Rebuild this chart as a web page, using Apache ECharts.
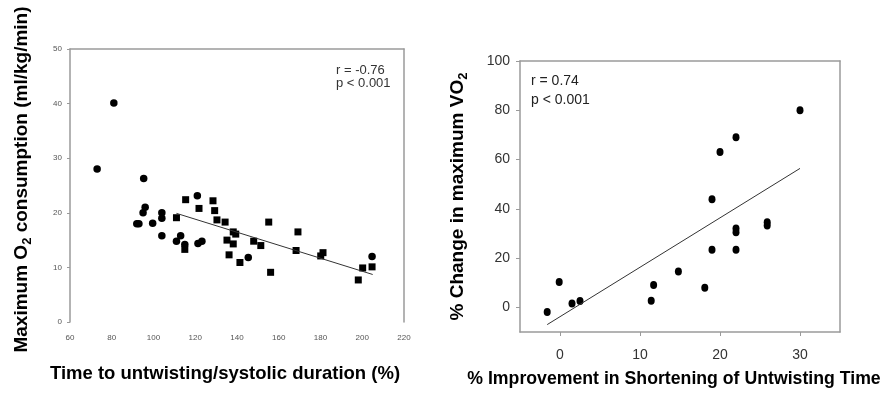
<!DOCTYPE html>
<html>
<head>
<meta charset="utf-8">
<script src="https://cdn.jsdelivr.net/npm/echarts@6/dist/echarts.min.js"></script>
<style>
html,body{margin:0;padding:0;background:#fff;}
#c{width:887px;height:401px;}
</style>
</head>
<body>
<div id="c"></div>
<script>
// ---- Left panel data: time to untwisting/systolic duration (%) vs max O2 consumption ----
const leftCircles = [[73,28],[81,40.1],[95.3,26.3],[96,21],[95,20],[92,18],[93,18],[99.6,18.1],[104,20],[104,19],[104,15.8],[111,14.8],[113,15.8],[115,14.2],[121,23.1],[121.3,14.4],[123.2,14.8],[145.4,11.8],[204.7,12.0]];
const leftSquares = [[111,19.1],[115,13.3],[115.4,22.4],[121.8,20.8],[128.5,22.2],[129.3,20.4],[130.4,18.7],[134.3,18.3],[135.2,15.0],[136.2,12.3],[138.2,16.5],[139.4,16.1],[138.2,14.3],[141.4,10.9],[148,14.8],[151.4,14.0],[155.2,18.3],[156.1,9.1],[169.2,16.5],[168.3,13.1],[180.1,12.1],[181.2,12.7],[198.1,7.7],[200.2,9.9],[204.7,10.1]];
const leftFit = [[111,19.9],[205,8.7]];
const leftXTicks = [60,80,100,120,140,160,180,200,220];
const leftYTicks = [0,10,20,30,40,50];

// ---- Right panel data: % improvement in shortening of untwisting time vs % change in max VO2 ----
const rightPoints = [[-1.6,-1.9],[-0.1,10.3],[1.5,1.6],[2.5,2.6],[11.4,2.7],[11.7,9.1],[14.8,14.6],[18.1,8.0],[19,23.4],[19,43.9],[20,63.1],[22,69],[22,23.4],[22,30.5],[22,32],[25.9,33.2],[25.9,34.5],[30,80]];
const rightFit = [[-1.6,-7],[30,56.4]];
const rightXTicks = [0,10,20,30];
const rightYTicks = [0,20,40,60,80,100];

const axisGrey = '#9a9a9a';
const font = 'Liberation Sans, Arial, sans-serif';

const chart = echarts.init(document.getElementById('c'));
chart.setOption({
  animation:false,
  textStyle:{fontFamily:font},
  grid:[
    {left:70, top:49, right:483, bottom:79},
    {left:520, top:61, right:47, bottom:69}
  ],
  title:[
    {text:'r = -0.76\np < 0.001', left:331, top:59, textStyle:{fontSize:13, fontWeight:'normal', color:'#333', lineHeight:13, fontFamily:font}},
    {text:'r = 0.74\np < 0.001', left:526, top:67, textStyle:{fontSize:14, fontWeight:'normal', color:'#222', lineHeight:19, fontFamily:font}}
  ],
  xAxis:[
    {gridIndex:0, type:'value', min:leftXTicks[0], max:leftXTicks[leftXTicks.length-1], interval:20,
     axisLine:{show:false}, axisTick:{show:false}, splitLine:{show:false},
     axisLabel:{fontSize:8, color:'#555', margin:12},
     name:'Time to untwisting/systolic duration (%)', nameLocation:'middle', nameGap:42,
     nameTextStyle:{fontSize:18.5, fontWeight:'bold', color:'#000', padding:[0,24,0,0]}},
    {gridIndex:0, type:'value', position:'top', min:60, max:220,
     axisLine:{show:true, onZero:false, lineStyle:{color:axisGrey, width:1.5}}, axisTick:{show:false}, axisLabel:{show:false}, splitLine:{show:false}},
    {gridIndex:1, type:'value', min:-5, max:35,
     axisLine:{show:true, onZero:false, lineStyle:{color:axisGrey, width:1.5}},
     axisTick:{show:true, length:4, lineStyle:{color:axisGrey}, customValues:rightXTicks},
     splitLine:{show:false},
     axisLabel:{fontSize:14, color:'#333', margin:16, customValues:rightXTicks},
     name:'% Improvement in Shortening of Untwisting Time', nameLocation:'middle', nameGap:38,
     nameTextStyle:{fontSize:17.7, fontWeight:'bold', color:'#000', padding:[0,12,0,0]}},
    {gridIndex:1, type:'value', position:'top', min:-5, max:35,
     axisLine:{show:true, onZero:false, lineStyle:{color:axisGrey, width:1.5}}, axisTick:{show:false}, axisLabel:{show:false}, splitLine:{show:false}}
  ],
  yAxis:[
    {gridIndex:0, type:'value', min:leftYTicks[0], max:leftYTicks[leftYTicks.length-1], interval:10,
     axisLine:{show:true, onZero:false, lineStyle:{color:axisGrey, width:1.5}},
     axisTick:{show:true, length:3, lineStyle:{color:axisGrey}},
     splitLine:{show:false},
     axisLabel:{fontSize:8, color:'#555', margin:8},
     name:'{a|Maximum O}{s|2}{a| consumption (ml/kg/min)}', nameLocation:'middle', nameGap:36,
     nameTextStyle:{padding:[0,0,0,12], rich:{a:{fontSize:19, fontWeight:'bold', color:'#000', fontFamily:font, lineHeight:24},
                          s:{fontSize:13, fontWeight:'bold', color:'#000', fontFamily:font, lineHeight:24, verticalAlign:'bottom', padding:[9,0,0,0]}}}},
    {gridIndex:0, type:'value', position:'right', min:0, max:50,
     axisLine:{show:true, onZero:false, lineStyle:{color:axisGrey, width:1.5}}, axisTick:{show:false}, axisLabel:{show:false}, splitLine:{show:false}},
    {gridIndex:1, type:'value', min:-10, max:100,
     axisLine:{show:true, onZero:false, lineStyle:{color:axisGrey, width:1.5}},
     axisTick:{show:true, length:4, lineStyle:{color:axisGrey}, customValues:rightYTicks},
     splitLine:{show:false},
     axisLabel:{fontSize:14, color:'#333', margin:10, customValues:rightYTicks},
     name:'{a|% Change in maximum VO}{s|2}', nameLocation:'middle', nameGap:50,
     nameTextStyle:{rich:{a:{fontSize:19, fontWeight:'bold', color:'#000', fontFamily:font, lineHeight:24},
                          s:{fontSize:13, fontWeight:'bold', color:'#000', fontFamily:font, lineHeight:24, verticalAlign:'bottom', padding:[9,0,0,0]}}}},
    {gridIndex:1, type:'value', position:'right', min:-10, max:100,
     axisLine:{show:true, onZero:false, lineStyle:{color:axisGrey, width:1.5}}, axisTick:{show:false}, axisLabel:{show:false}, splitLine:{show:false}}
  ],
  series:[
    {type:'scatter', xAxisIndex:0, yAxisIndex:0, data:leftCircles, symbol:'circle', symbolSize:7.5, itemStyle:{color:'#000', opacity:1}},
    {type:'scatter', xAxisIndex:0, yAxisIndex:0, data:leftSquares, symbol:'rect', symbolSize:7, itemStyle:{color:'#000', opacity:1}},
    {type:'line', xAxisIndex:0, yAxisIndex:0, data:leftFit, symbol:'none', lineStyle:{color:'#333', width:1}},
    {type:'scatter', xAxisIndex:2, yAxisIndex:2, data:rightPoints, symbol:'circle', symbolSize:[7,8], itemStyle:{color:'#000', opacity:1}},
    {type:'line', xAxisIndex:2, yAxisIndex:2, data:rightFit, symbol:'none', lineStyle:{color:'#333', width:1}}
  ]
});
</script>
</body>
</html>
